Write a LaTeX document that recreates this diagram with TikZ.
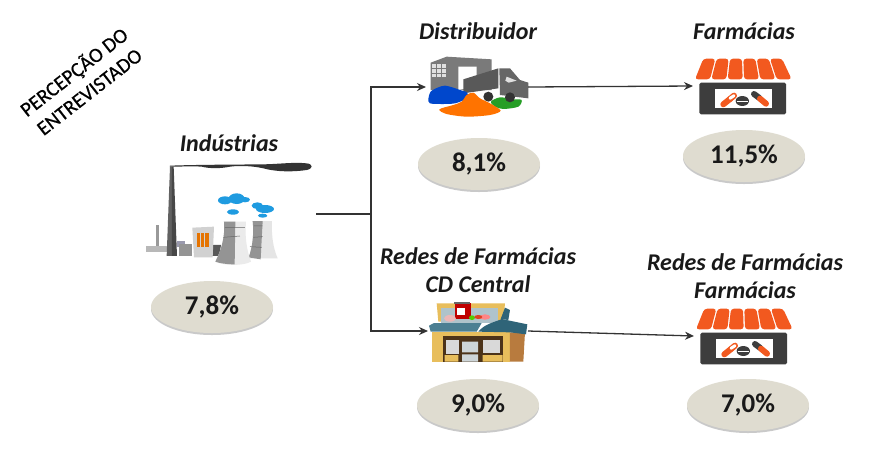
\documentclass[tikz,border=0pt]{standalone}
\usepackage{fontspec}
\setmainfont{Carlito}
\usetikzlibrary{shapes.geometric,arrows.meta,shadows}
\definecolor{pill}{HTML}{DFDCD0}
\definecolor{shoporange}{HTML}{F2591F}
\definecolor{shopdark}{HTML}{3D3D3D}
\definecolor{cloudblue}{HTML}{1F9BE0}
\definecolor{brick}{HTML}{E8BE5C}
\definecolor{brickside}{HTML}{B87B3E}
\definecolor{roofteal}{HTML}{4C7F92}
\definecolor{roofdark}{HTML}{2F6478}
\tikzset{
  title/.style={font=\fontsize{24}{28.5}\selectfont\bfseries\itshape,align=center,text=black!90,inner sep=0pt},
  pct/.style={ellipse,fill=pill,minimum width=122pt,minimum height=52pt,inner sep=0pt,font=\fontsize{27}{30}\selectfont\bfseries,text=black!90,
    drop shadow={shadow xshift=0pt,shadow yshift=-2pt,opacity=.35,fill=black!60}},
  icon/.style={inner sep=0pt,outer sep=0pt},
  link/.style={draw=black!80,line width=1.3pt},
  arrowlink/.style={link,-{Stealth[length=9pt,width=8pt]}},
}
\newcommand{\shopicon}[2]{%
\begin{scope}[shift={(#1,#2)},x=0.3333pt,y=-0.3333pt]
  \foreach \i in {0,...,5}{
    \fill[shoporange,rounded corners=3pt] ({70+\i*40},41) -- ({106+\i*40},41) -- ({90+\i*49},103) -- ({45+\i*49},103) -- cycle;
  }
  \fill[shopdark,rounded corners=1.5pt] (58,113) rectangle (318,208);
  \fill[white] (105,133) rectangle (275,190);
  \draw[shoporange,line width=6pt,line cap=round] (130,178) -- (150,162);
  \draw[shoporange,line width=6pt,line cap=round] (150,162) -- (162,152);
  \draw[white,line width=3pt,line cap=round] (150,160) -- (162,152);
  \fill[shopdark] (187,168) ellipse (20 and 15);
  \draw[white,line width=.6pt] (170,168) -- (204,168);
  \draw[shopdark,line width=6pt,line cap=round] (222,147) -- (238,159);
  \draw[shoporange,line width=6pt,line cap=round] (240,161) -- (258,176);
\end{scope}}
\begin{document}
\begin{tikzpicture}[x=1pt,y=-1pt]
\useasboundingbox (0,0) rectangle (869,448);
\fill[white] (0,0) rectangle (869,448);

% rotated label
\node[rotate=38,align=center,font=\addfontfeature{FakeBold=0.5}\fontsize{20.5}{25}\selectfont,inner sep=0pt,text=black] (percep) at (81,81) {PERCEPÇÃO DO\\ENTREVISTADO};

% titles
\node[title] (tind) at (229,143) {Indústrias};
\node[title] (tdis) at (478,31) {Distribuidor};
\node[title] (tfar) at (744,31) {Farmácias};
\node[title] (tred) at (478,270) {Redes de Farmácias\\CD Central};
\node[title] (tref) at (745,276) {Redes de Farmácias\\Farmácias};

% percent ellipses
\node[pct] (pind) at (212,307) {7,8\%};
\node[pct] (pdis) at (479,164) {8,1\%};
\node[pct] (pfar) at (744,156) {11,5\%};
\node[pct] (pred) at (478,405) {9,0\%};
\node[pct] (pref) at (748,405) {7,0\%};

% industry icon
\begin{scope}[shift={(130,150)},x=0.3333pt,y=-0.3333pt]
  \fill[black!80] (120,47) .. controls (200,44) and (300,44) .. (400,43) .. controls (450,42) and (490,36) .. (530,40) .. controls (550,42) and (550,56) .. (530,60) .. controls (490,66) and (440,66) .. (400,55) .. controls (370,48) and (330,46) .. (300,50) .. controls (270,56) and (240,56) .. (215,50) .. controls (190,48) and (150,50) .. (120,50) -- cycle;
  \fill[black!40] (78,225) rectangle (87,290);
  \fill[black!28] (48,287) rectangle (112,306);
  \fill[black!62] (120,50) -- (126,50) -- (126,318) -- (110,318) -- cycle;
  \fill[black!72] (126,50) -- (131,50) -- (141,318) -- (126,318) -- cycle;
  \fill[blue!20!black!40] (140,272) rectangle (166,292);
  \fill[black!42] (148,282) rectangle (186,319);
  \fill[black!65] (244,285) -- (273,285) -- (268,318) -- (244,318) -- cycle;
  \fill[black!18] (187,233) -- (252,230) -- (248,322) -- (192,322) -- cycle;
  \fill[orange!90!black] (200,248) rectangle (210,290);
  \fill[orange!90!black] (213,248) rectangle (223,290);
  \fill[orange!90!black] (226,248) rectangle (236,290);
  % tower 2
  \fill[black!10] (368,213) -- (426,213) .. controls (424,260) and (430,295) .. (443,325) -- (356,325) .. controls (368,290) and (372,250) .. (368,213) -- cycle;
  \fill[black!42] (368,213) -- (398,213) -- (392,328) -- (356,322) .. controls (368,290) and (372,250) .. (368,213) -- cycle;
  % tower 1
  \fill[black!8] (282,215) -- (348,215) .. controls (344,260) and (350,300) .. (363,335) .. controls (340,348) and (280,348) .. (256,335) .. controls (274,300) and (286,260) .. (282,215) -- cycle;
  \fill[black!42] (282,215) -- (316,215) -- (314,343) .. controls (290,343) and (270,340) .. (256,335) .. controls (274,300) and (286,260) .. (282,215) -- cycle;
  \draw[black!60,line width=.5pt] (285,232) -- (345,232) (280,262) -- (330,258);
  \draw[black!60,line width=.5pt] (372,228) -- (398,228) (370,262) -- (398,260) (360,290) -- (395,292);
  % clouds
  \fill[cloudblue] (285,151) ellipse (21 and 12) (320,146) ellipse (24 and 16) (345,149) ellipse (15 and 8);
  \fill[cloudblue] (309,186) ellipse (18 and 8);
  \fill[cloudblue] (382,167) ellipse (17 and 10) (405,177) ellipse (27 and 12);
  \fill[cloudblue] (398,197) ellipse (14 and 6);
\end{scope}
\node[icon,minimum width=166pt,minimum height=100pt] (ind) at (233,214) {};

% distributor icon
\begin{scope}[shift={(410,40)},x=0.3333pt,y=-0.3333pt]
  \fill[black!52] (62,68) -- (110,50) -- (245,58) -- (245,150) -- (62,150) -- cycle;
  \fill[black!12] (66,72) rectangle (108,112);
  \draw[black!52,line width=.8pt] (66,86) -- (108,86) (66,100) -- (108,100) (80,72) -- (80,112) (94,72) -- (94,112);
  \fill[white] (145,80) -- (200,80) -- (200,140) -- (145,150) -- cycle;
  \fill[black!65] (160,118) -- (265,85) -- (265,145) -- (160,160) -- cycle;
  \fill[black!60] (268,85) -- (300,85) -- (330,120) -- (355,128) -- (355,175) -- (270,165) -- cycle;
  \fill[black!12] (290,110) -- (320,122) -- (296,128) -- (286,122) -- cycle;
  \fill[green!55!black!85] plot[smooth cycle] coordinates {(243,185) (270,172) (310,178) (335,180) (325,200) (280,207) (255,200)};
  \fill[black!80] (235,170) circle (15) (300,172) circle (15);
  \fill[blue!65!cyan!80!black] plot[smooth cycle] coordinates {(55,178) (62,155) (85,142) (105,137) (130,143) (150,150) (172,158) (170,175) (135,190) (90,192) (60,190)};
  \fill[orange!90!red] plot[smooth cycle] coordinates {(88,208) (130,195) (155,185) (170,165) (190,158) (210,175) (240,190) (272,212) (240,225) (170,230) (110,222)};
\end{scope}
\node[icon,minimum width=102pt,minimum height=62pt] (dis) at (477,87) {};

% store icon
\begin{scope}[shift={(410,295)},x=0.3333pt,y=-0.3333pt]
  \fill[brick] (80,25) -- (285,25) -- (280,80) -- (85,80) -- cycle;
  \fill[cyan!25!gray!60] (92,38) rectangle (265,85);
  \fill[red!75!black] (135,24) rectangle (182,72);
  \fill[black!60] (132,20) rectangle (180,28);
  \fill[white] (142,38) rectangle (166,60);
  \fill[pink!85!gray] (120,70) ellipse (18 and 10);
  \fill[green!60!yellow!80!black] (186,68) ellipse (9 and 7);
  \fill[pink!70!red] (225,66) ellipse (16 and 8);
  \fill[red!50!brown] (205,66) ellipse (12 and 6);
  \fill[brick] (66,110) rectangle (300,200);
  \fill[brickside] (300,112) -- (345,112) -- (340,200) -- (300,200) -- cycle;
  \fill[black!60!brown] (100,122) rectangle (278,200);
  \fill[brick] (104,180) rectangle (145,200) (218,180) rectangle (278,200);
  \fill[black!15] (108,135) rectangle (146,178);
  \fill[black!15] (218,135) rectangle (270,175);
  \fill[cyan!15!gray!40] (156,140) rectangle (204,172) (156,178) rectangle (204,200);
  \fill[roofteal] (57,92) -- (72,84) -- (215,84) -- (200,110) -- (62,110) -- cycle;
  \fill[roofdark] (205,110) .. controls (225,85) and (260,80) .. (275,72) -- (352,88) -- (348,118) -- (300,112) -- cycle;
  \fill[roofdark] (272,72) -- (285,38) -- (300,45) -- (295,75) -- cycle;
\end{scope}
\node[icon,minimum width=100pt,minimum height=62pt] (red) at (478,331) {};

% shops
\shopicon{680}{45}
\node[icon,minimum width=100pt,minimum height=56pt] (far) at (743,86) {};
\shopicon{681}{295}
\node[icon,minimum width=100pt,minimum height=56pt] (ref) at (744,336) {};

% connectors
\coordinate (junction) at (371,214);
\draw[link] (ind.east) -- (junction);
\draw[arrowlink] (junction) |- (dis.west);
\draw[arrowlink] (junction) |- (red.west);
\draw[arrowlink] (dis.east) -- (far.west);
\draw[arrowlink] (red.east) -- (ref.west);
\end{tikzpicture}
\end{document}
